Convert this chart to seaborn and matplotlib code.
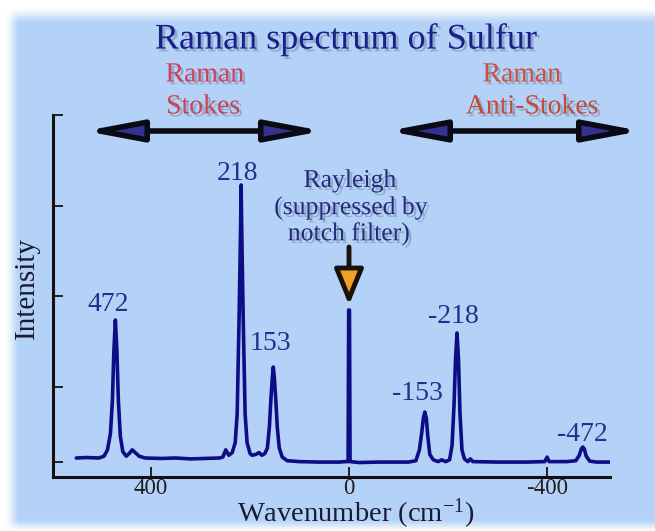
import numpy as np
import pandas as pd
import matplotlib
matplotlib.use("Agg")
import matplotlib.pyplot as plt
import matplotlib.patheffects as pe
import seaborn as sns

# Raman spectrum of sulfur: wavenumber shift (cm^-1) and intensity (a.u.)
wavenumber = [
    551, 530, 505, 495, 488, 482, 478, 475, 472, 469, 466, 462, 457, 450, 444, 438, 432, 424, 412,
    380, 350, 320, 290, 262,
    255, 249, 243, 236, 230, 226, 222, 219, 218, 217, 214, 210, 206, 200,
    196, 188, 182, 176, 170, 165, 161, 158, 155, 153, 151, 148, 145, 141, 135, 125, 100, 60, 20, 8,
    2, 0.8, -0.8, -2,
    -20, -60, -120, -135, -142, -147, -150, -153, -156, -159, -163, -170, -180, -187, -195, -203,
    -208, -212, -215, -218, -221, -224, -228, -233, -240, -245, -250, -300, -360, -395, -400, -404,
    -440, -458, -465, -469, -472, -475, -479, -486, -500, -527,
]
intensity = [
    0.21, 0.215, 0.21, 0.23, 0.30, 0.48, 0.85, 1.40, 1.735, 1.40, 0.85, 0.45, 0.28, 0.23, 0.26, 0.30, 0.27, 0.23, 0.21,
    0.205, 0.21, 0.20, 0.205, 0.21,
    0.22, 0.30, 0.24, 0.27, 0.38, 0.70, 1.80, 2.80, 3.227, 2.80, 1.80, 0.70, 0.38, 0.26,
    0.24, 0.25, 0.27, 0.24, 0.26, 0.32, 0.55, 0.85, 1.10, 1.215, 1.10, 0.85, 0.55, 0.32, 0.22, 0.18, 0.17, 0.165, 0.165, 0.17,
    0.17, 1.845, 1.845, 0.17,
    0.16, 0.165, 0.165, 0.18, 0.30, 0.50, 0.65, 0.718, 0.65, 0.45, 0.25, 0.19, 0.17, 0.19, 0.17, 0.19,
    0.35, 0.80, 1.30, 1.591, 1.30, 0.70, 0.30, 0.20, 0.17, 0.20, 0.17, 0.165, 0.165, 0.17, 0.22, 0.17,
    0.17, 0.18, 0.24, 0.31, 0.331, 0.31, 0.23, 0.175, 0.165, 0.165,
]

# Labelled Raman lines (Stokes positive, anti-Stokes negative)
peak_wn = [472, 218, 153, -153, -218, -472]
peak_top = [1.735, 3.227, 1.215, 0.718, 1.591, 0.331]
peak_text = ["472", "218", "153", "-153", "-218", "-472"]

x_ticks = [400, 0, -400]
x_tick_labels = ["400", "0", "-400"]
y_ticks = [0.17, 1, 2, 3, 4]

spectrum = pd.DataFrame({"wavenumber": wavenumber, "intensity": intensity})

sns.set_style("ticks")
plt.rcParams["font.family"] = ["Liberation Serif", "DejaVu Serif"]
plt.rcParams["mathtext.fontset"] = "custom"
plt.rcParams["mathtext.rm"] = "Liberation Serif"
plt.rcParams["mathtext.it"] = "Liberation Serif:italic"

W, H = 655, 531
fig = plt.figure(figsize=(W / 100, H / 100), dpi=100)
fig.patch.set_facecolor("white")

# soft-edged light blue panel behind everything
bg = fig.add_axes([0, 0, 1, 1], zorder=-5)
bg.set_axis_off()
yy, xx = np.mgrid[0:H, 0:W]


def smooth(v, a, b):
    t = np.clip((v - a) / (b - a), 0, 1)
    return t * t * (3 - 2 * t)


alpha = smooth(xx, 4, 20) * smooth(yy, 6, 24) * (1 - smooth(yy, 518, 532))
blue = np.array([0.706, 0.827, 0.973])
img = np.ones((H, W, 3)) * (1 - alpha[..., None]) + blue * alpha[..., None]
bg.imshow(img, extent=[0, W, H, 0], aspect="auto", interpolation="bilinear")
bg.set_xlim(0, W)
bg.set_ylim(H, 0)

# main axes
left, right, bottom, top = 53, 610, 477, 115
ax = fig.add_axes([left / W, 1 - bottom / H, (right - left) / W, (bottom - top) / H])
ax.set_facecolor("none")

sns.lineplot(data=spectrum, x="wavenumber", y="intensity", ax=ax, sort=False,
             estimator=None, color="#0d0d85", lw=2.6)

ax.set_xlim(598, -527)
ax.set_ylim(0, 4.0)
ax.set_xticks(x_ticks)
ax.set_xticklabels(x_tick_labels)
ax.set_yticks(y_ticks)
ax.set_yticklabels([])
for s in ["top", "right"]:
    ax.spines[s].set_visible(False)
for s in ["left", "bottom"]:
    ax.spines[s].set_linewidth(2.2)
    ax.spines[s].set_color("#111111")
ax.tick_params(direction="in", length=7, width=1.4, color="#222222",
               labelsize=16.5, labelcolor="#1e1e1e", pad=0.5)

ax.set_xlabel(r"Wavenumber (cm$^{\mathregular{-1}}$)", fontsize=20.5, color="#1a1a30")
ax.xaxis.set_label_coords((356 - left) / (right - left), -(514 - bottom) / (bottom - top))
ax.xaxis.label.set_verticalalignment("center")
ax.set_ylabel("Intensity", fontsize=21, color="#1a1a30")
ax.yaxis.set_label_coords((27 - left) / (right - left), (bottom - 288) / (bottom - top))
ax.yaxis.label.set_verticalalignment("center")

# peak labels
label_offsets = [(-7, 9), (-4, 5), (-3, 17), (-7, 12), (-4, 10), (0, 6)]
for wn, top_i, txt, (dx, dy) in zip(peak_wn, peak_top, peak_text, label_offsets):
    ax.annotate(txt, xy=(wn, top_i), xytext=(dx, dy), textcoords="offset pixels",
                ha="center", va="baseline", fontsize=20, color="#23308c")

shadow = [pe.withSimplePatchShadow(offset=(2, -2), shadow_rgbFace="#50607a", alpha=0.35)]


def ftext(x, y, s, **kw):
    return fig.text(x / W, 1 - y / H, s, ha="center", va="center", **kw)


ftext(346, 40, "Raman spectrum of Sulfur", fontsize=26, color="#1a1f8a", path_effects=shadow)
ftext(205, 75, "Raman", fontsize=20, color="#d0405a", path_effects=shadow)
ftext(203, 107, "Stokes", fontsize=20, color="#c84452", path_effects=shadow)
ftext(522, 75, "Raman", fontsize=20, color="#cf4f3c", path_effects=shadow)
ftext(532, 107, "Anti-Stokes", fontsize=20, color="#c64a36", path_effects=shadow)

ftext(350, 181, "Rayleigh", fontsize=18.5, color="#262a7a", path_effects=shadow)
ftext(351, 208, "(suppressed by", fontsize=18.5, color="#262a7a", path_effects=shadow)
ftext(349, 234, "notch filter)", fontsize=18.5, color="#262a7a", path_effects=shadow)

# Stokes / anti-Stokes double arrows
for x0, x1 in [(85, 323), (388, 641)]:
    fig.add_artist(matplotlib.patches.FancyArrowPatch(
        (x0, H - 131), (x1, H - 131), transform=None,
        arrowstyle="<|-|>,head_length=1.7,head_width=0.32", mutation_scale=20,
        lw=4, facecolor="#33338f", edgecolor="#0a0a14", shrinkA=0, shrinkB=0))

# Rayleigh pointer
fig.add_artist(matplotlib.patches.FancyArrowPatch(
    (349, H - 247), (349, H - 305), transform=None,
    arrowstyle="-|>,head_length=1.1,head_width=0.45", mutation_scale=20,
    lw=3.5, facecolor="#f2a024", edgecolor="#1a1208", shrinkA=0, shrinkB=0))

fig.savefig("out.png", dpi=100)
